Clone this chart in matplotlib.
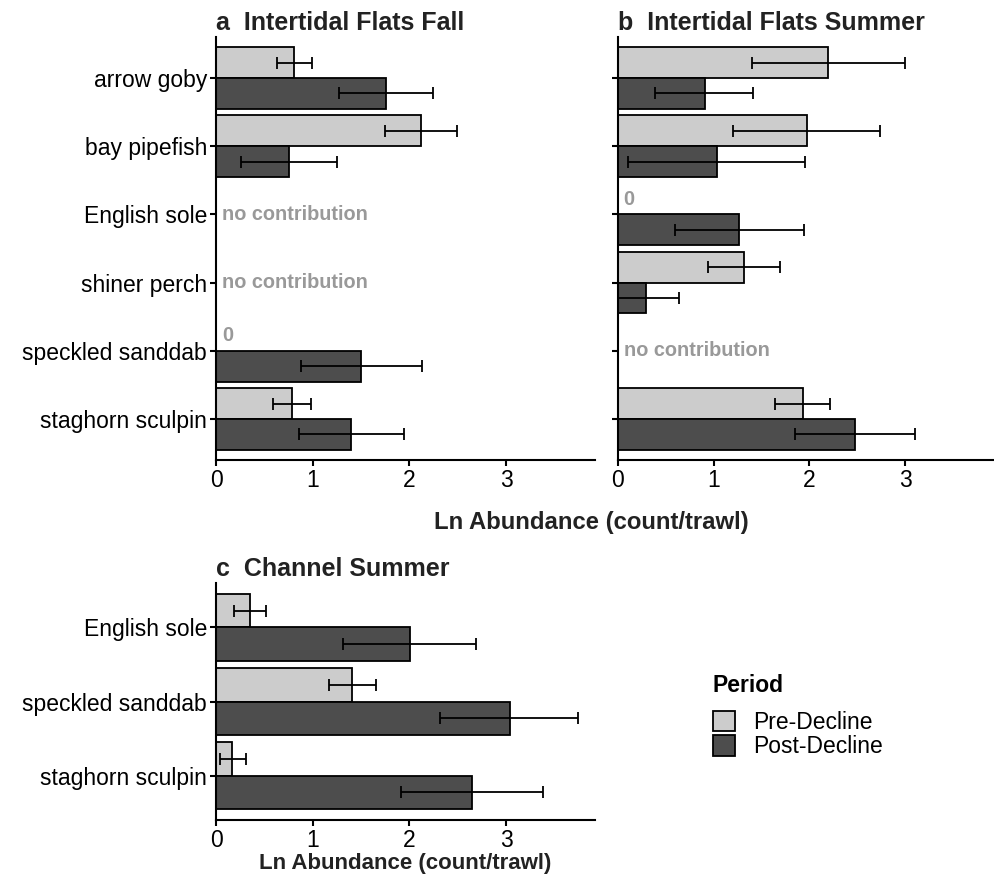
import numpy as np
import matplotlib.pyplot as plt
from matplotlib.patches import Patch

plt.rcParams['font.family'] = ['Liberation Sans', 'DejaVu Sans']

PRE_COL = '#cccccc'
POST_COL = '#4d4d4d'
NOTE_COL = '#999999'

nan = np.nan

# intertidal flats species (panels a and b)
flats_species = ['arrow goby', 'bay pipefish', 'English sole', 'shiner perch',
                 'speckled sanddab', 'staghorn sculpin']

fall_pre = [0.81, 2.12, nan, nan, 0.0, 0.79]
fall_pre_lo = [0.63, 1.75, nan, nan, nan, 0.59]
fall_pre_hi = [0.99, 2.49, nan, nan, nan, 0.98]
fall_post = [1.76, 0.75, nan, nan, 1.50, 1.40]
fall_post_lo = [1.27, 0.26, nan, nan, 0.88, 0.86]
fall_post_hi = [2.24, 1.25, nan, nan, 2.13, 1.94]

summer_pre = [2.20, 1.98, 0.0, 1.32, nan, 1.93]
summer_pre_lo = [1.40, 1.20, nan, 0.94, nan, 1.64]
summer_pre_hi = [3.00, 2.74, nan, 1.69, nan, 2.22]
summer_post = [0.91, 1.03, 1.27, 0.29, nan, 2.48]
summer_post_lo = [0.39, 0.10, 0.60, 0.0, nan, 1.85]
summer_post_hi = [1.41, 1.95, 1.94, 0.64, nan, 3.10]

# channel species (panel c)
channel_species = ['English sole', 'speckled sanddab', 'staghorn sculpin']
chan_pre = [0.35, 1.41, 0.17]
chan_pre_lo = [0.19, 1.17, 0.04]
chan_pre_hi = [0.52, 1.65, 0.31]
chan_post = [2.01, 3.04, 2.65]
chan_post_lo = [1.31, 2.32, 1.91]
chan_post_hi = [2.69, 3.74, 3.38]

TICK_SIZE = 16.5
TITLE_SIZE = 18
LABEL_SIZE = 17.2
NOTE_SIZE = 14.3


def draw_panel(ax, species, pre, pre_lo, pre_hi, post, post_lo, post_hi,
               title, show_labels=True):
    pre = np.array(pre, dtype=float)
    post = np.array(post, dtype=float)
    n = len(species)
    y = np.arange(n)
    h = 0.45
    for vals, lo, hi, off, col in [(pre, pre_lo, pre_hi, -h / 2, PRE_COL),
                                   (post, post_lo, post_hi, h / 2, POST_COL)]:
        lo = np.array(lo, dtype=float)
        hi = np.array(hi, dtype=float)
        ok = ~np.isnan(vals) & (vals > 0)
        ax.barh(y[ok] + off, vals[ok], height=h, color=col,
                edgecolor='black', linewidth=1.3, zorder=2)
        eb = ok & ~np.isnan(lo)
        ax.errorbar(vals[eb], y[eb] + off,
                    xerr=[vals[eb] - lo[eb], hi[eb] - vals[eb]],
                    fmt='none', ecolor='black', elinewidth=1.3,
                    capsize=4.6, capthick=1.3, zorder=3)
    # notes for species with zero catch or no contribution
    for i in range(n):
        if np.isnan(pre[i]) and np.isnan(post[i]):
            ax.text(0.06, i, 'no contribution', color=NOTE_COL,
                    fontsize=NOTE_SIZE, fontweight='bold', va='center',
                    ha='left')
        elif pre[i] == 0:
            ax.text(0.06, i - h / 2, '0', color=NOTE_COL,
                    fontsize=NOTE_SIZE, fontweight='bold', va='center',
                    ha='left')

    ax.set_ylim(n - 0.4, -0.6)
    ax.set_xlim(0, 3.92)
    ax.set_yticks(y)
    ax.set_yticklabels(species if show_labels else [])
    ax.set_xticks([0, 1, 2, 3])
    for s in ['top', 'right']:
        ax.spines[s].set_visible(False)
    for s in ['left', 'bottom']:
        ax.spines[s].set_linewidth(1.5)
        ax.spines[s].set_color('black')
    ax.tick_params(axis='both', length=4.5, width=1.5, color='black',
                   labelsize=TICK_SIZE, labelcolor='black')
    ax.tick_params(axis='y', pad=2)
    ax.tick_params(axis='x', pad=2)
    ax.set_title(title, loc='left', fontsize=TITLE_SIZE, fontweight='bold',
                 color='#222222', pad=5, x=0.0)


fig = plt.figure(figsize=(9.95, 8.77), dpi=100)

ax_a = fig.add_axes([0.2171, 0.4755, 0.381, 0.4823])
ax_b = fig.add_axes([0.6211, 0.4755, 0.3769, 0.4823])
ax_c = fig.add_axes([0.2171, 0.065, 0.381, 0.2702])

draw_panel(ax_a, flats_species, fall_pre, fall_pre_lo, fall_pre_hi,
           fall_post, fall_post_lo, fall_post_hi, 'a  Intertidal Flats Fall')
draw_panel(ax_b, flats_species, summer_pre, summer_pre_lo, summer_pre_hi,
           summer_post, summer_post_lo, summer_post_hi,
           'b  Intertidal Flats Summer', show_labels=False)
draw_panel(ax_c, channel_species, chan_pre, chan_pre_lo, chan_pre_hi,
           chan_post, chan_post_lo, chan_post_hi, 'c  Channel Summer')

fig.text(0.5945, 1 - 522 / 877, 'Ln Abundance (count/trawl)', ha='center',
         va='center', fontsize=LABEL_SIZE, fontweight='bold', color='#222222')
ax_c.set_xlabel('Ln Abundance (count/trawl)', fontsize=16,
                fontweight='bold', color='#222222', labelpad=1)

handles = [Patch(facecolor=PRE_COL, edgecolor='black', linewidth=1.3,
                 label='Pre-Decline'),
           Patch(facecolor=POST_COL, edgecolor='black', linewidth=1.3,
                 label='Post-Decline')]
leg = fig.legend(handles=handles, title='Period', loc='upper left',
                 bbox_to_anchor=(0.7165, 1 - 674 / 877), frameon=False,
                 fontsize=TICK_SIZE,
                 title_fontproperties={'weight': 'bold', 'size': TICK_SIZE},
                 handlelength=0.95, handleheight=1.0, handletextpad=0.8,
                 labelspacing=0.05, borderaxespad=0, borderpad=0)
leg._legend_box.align = 'left'
leg._legend_box.sep = 10

fig.savefig('out.png', dpi=100)
